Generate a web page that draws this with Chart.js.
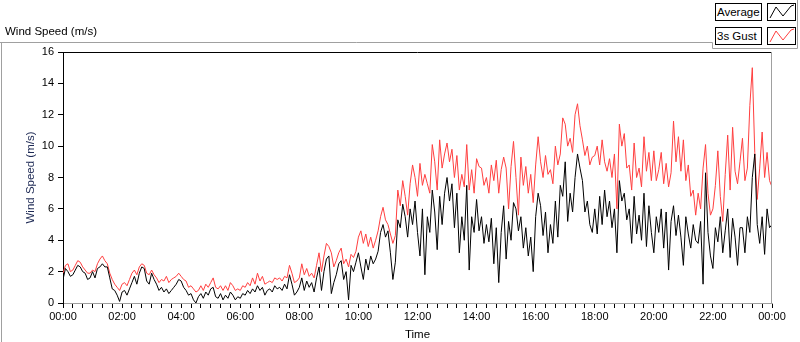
<!DOCTYPE html>
<html>
<head>
<meta charset="utf-8">
<title>Wind Speed (m/s)</title>
<script src="https://cdn.jsdelivr.net/npm/chart.js@4.4.0/dist/chart.umd.min.js"></script>
<style>
  html, body { margin: 0; padding: 0; background: #fff; }
  #wrap { position: relative; width: 800px; height: 342px; overflow: hidden; font-family: "Liberation Sans", Arial, sans-serif; }
  #windChart { position: absolute; left: 0; top: 0; }
  .graphLabel { position: absolute; left: 5px; top: 24px; font-size: 11.5px; line-height: 14px; color: #000; }
  .legendName { position: absolute; left: 715px; width: 45px; height: 16px; border: 1px solid #000; background: #fff;
                font-size: 11.5px; line-height: 16px; text-indent: 1px; color: #000; white-space: nowrap; }
  .legendSwatch { position: absolute; left: 767px; width: 27px; height: 16px; border: 1px solid #000; background: #fff; }
  .legendSwatch svg { display: block; }
</style>
</head>
<body>
<div id="wrap">
  <canvas id="windChart" width="800" height="342"></canvas>
  <div class="graphLabel">Wind Speed (m/s)</div>
  <div class="legendName" style="top:3px">Average</div>
  <div class="legendSwatch" style="top:3px">
    <svg width="27" height="16"><polyline points="2,14 8,3 15,12 23,2 26,1" fill="none" stroke="#000" stroke-width="1"/></svg>
  </div>
  <div class="legendName" style="top:27px">3s Gust</div>
  <div class="legendSwatch" style="top:27px">
    <svg width="27" height="16"><polyline points="2,14 8,3 15,12 23,2 26,1" fill="none" stroke="#ff3f3f" stroke-width="1"/></svg>
  </div>
</div>
<script>
// one sample every 5 minutes, 00:00 .. 24:00
const stepMinutes = 5;

const avgSpeed = [
  1.5, 2.2, 2.0, 1.7, 1.8, 2.1, 2.4, 2.3, 2.0, 1.9, 1.5, 1.6,
  2.0, 1.6, 2.2, 2.3, 2.5, 2.3, 2.3, 1.6, 0.9, 0.8, 0.5, 0.1,
  0.7, 0.8, 0.5, 0.9, 1.3, 1.7, 1.2, 1.9, 2.3, 2.2, 1.4, 1.2,
  1.9, 1.5, 1.2, 0.8, 1.0, 0.7, 0.9, 0.6, 0.8, 1.0, 1.2, 1.5,
  1.4, 1.0, 0.8, 0.5, 0.6, 0.2, 0.0, 0.4, 0.6, 0.3, 0.7, 0.5,
  0.9, 1.0, 0.4, 0.3, 0.6, 0.2, 0.5, 0.3, 0.7, 0.5, 0.2, 0.4,
  0.3, 0.6, 0.5, 0.8, 0.6, 0.9, 0.7, 1.1, 0.8, 1.0, 0.5, 0.8,
  0.9, 0.7, 1.1, 0.9, 1.0, 0.8, 1.2, 0.9, 1.8, 1.2, 0.5, 0.7,
  1.0, 1.6, 0.8, 1.4, 1.0, 1.3, 0.7, 1.6, 2.3, 0.8, 2.0, 2.8,
  3.0, 0.6, 1.3, 1.8, 2.5, 2.7, 1.5, 2.0, 0.2, 2.4, 2.0, 2.6,
  3.2, 2.3, 1.5, 2.8, 2.1, 3.0, 2.5, 2.8, 3.3, 4.5, 5.0, 4.2,
  4.6, 3.2, 1.5, 2.6, 5.3, 4.8, 6.3, 5.5, 4.2, 6.0, 5.0, 6.5,
  4.5, 3.0, 6.0, 1.8, 5.5, 4.5, 7.2, 5.8, 3.4, 6.8, 5.0, 7.0,
  8.0, 6.5, 7.6, 4.8, 7.0, 3.2, 5.5, 4.0, 7.5, 2.1, 5.5, 4.5,
  6.6, 4.6, 5.5, 3.8, 5.0, 3.9, 5.4, 2.5, 4.8, 1.3, 4.5, 6.2,
  2.8, 5.2, 4.0, 6.4, 6.0, 4.6, 5.5, 3.5, 4.8, 3.0, 4.2, 2.0,
  5.5, 7.0, 6.2, 4.3, 5.8, 3.2, 5.0, 3.8, 6.5, 4.2, 7.5, 6.8,
  9.0, 5.2, 7.0, 5.8, 8.0, 9.5, 8.6, 7.8, 5.8, 6.5, 5.0, 4.5,
  6.0, 4.4, 6.8, 5.0, 7.2, 5.5, 6.5, 4.8, 6.0, 3.2, 7.8, 6.5,
  7.0, 5.3, 6.0, 3.8, 6.8, 4.4, 5.6, 4.0, 7.0, 3.6, 6.2, 4.5,
  3.2, 5.5, 4.5, 6.0, 3.5, 5.8, 2.1, 5.2, 6.2, 4.3, 5.6, 4.2,
  2.4, 5.5, 4.4, 3.5, 5.0, 4.0, 3.8, 5.2, 1.2, 8.3, 4.5, 3.0,
  2.2, 4.8, 3.9, 5.5, 3.2, 4.6, 6.0, 2.9, 5.4, 4.2, 2.4, 4.8,
  4.8, 3.2, 5.5, 4.5, 8.0, 9.5, 5.0, 3.8, 5.5, 3.1, 6.0, 4.8,
  5.0
];

const gustSpeed = [
  1.9, 2.4, 2.5, 2.0, 2.1, 2.4, 2.7, 2.6, 2.3, 2.1, 1.9, 1.9,
  2.1, 2.0, 2.5, 2.8, 3.0, 2.7, 2.5, 1.9, 1.5, 1.2, 1.0, 0.8,
  1.2, 1.3, 1.1, 1.5, 1.9, 2.1, 1.8, 2.3, 2.5, 2.4, 1.9, 1.8,
  2.1, 1.8, 1.6, 1.3, 1.5, 1.4, 1.7, 1.3, 1.5, 1.6, 1.7, 1.9,
  1.7, 1.5, 1.4, 1.0, 1.1, 0.9, 0.7, 0.8, 1.1, 0.8, 1.2, 1.0,
  1.3, 1.6, 1.0, 0.9, 1.1, 0.8, 1.1, 0.8, 1.3, 1.1, 0.8, 0.9,
  0.8, 1.1, 1.0, 1.3, 1.1, 1.6, 1.2, 1.9, 1.4, 1.7, 1.2, 1.3,
  1.4, 1.3, 1.6, 1.5, 1.6, 1.4, 1.7, 1.6, 2.4, 1.9, 1.3, 1.4,
  1.6, 2.5, 1.8, 2.2, 1.7, 1.9, 1.6, 2.4, 3.2, 2.0, 3.0, 3.8,
  3.6, 3.2, 2.3, 2.7, 3.2, 3.5, 2.5, 2.8, 2.3, 3.1, 2.9, 3.3,
  4.2, 4.6, 3.8, 4.4, 3.6, 4.2, 3.5, 4.0, 4.6, 5.5, 6.1, 5.3,
  5.0, 4.4, 3.8, 4.3, 7.2, 6.2, 7.8, 6.8, 5.6, 7.6, 8.8, 8.0,
  6.8, 8.9, 7.5, 8.2, 7.6, 7.0, 10.1, 9.0, 7.2, 10.4, 8.6, 9.5,
  10.2, 9.0, 9.8, 8.0, 9.4, 7.2, 8.2, 7.4, 10.1, 7.2, 8.5, 7.0,
  9.2, 8.7, 8.6, 7.5, 8.0, 7.0, 8.8, 7.8, 9.1, 7.0, 8.5, 9.3,
  8.6, 6.0, 8.7, 10.3, 8.0, 5.6, 9.3, 7.5, 8.7, 7.0, 8.2, 6.4,
  8.8, 10.6, 9.0, 8.0, 9.4, 8.2, 8.5, 7.6, 10.0, 8.8, 9.5, 11.8,
  11.4, 10.0, 10.5, 9.6, 12.0, 12.7, 11.3, 10.4, 9.4, 10.0, 8.8, 9.3,
  9.4, 10.0, 8.8, 10.4, 9.0, 8.4, 9.2, 8.0, 9.5, 6.0, 11.4, 10.0,
  10.8, 8.6, 8.8, 7.2, 10.2, 8.0, 8.6, 7.4, 10.6, 8.4, 9.6, 7.8,
  9.7, 7.8, 8.5, 9.6, 7.6, 8.9, 7.4, 8.3, 11.6, 9.0, 10.6, 8.4,
  10.4, 7.8, 8.8, 6.8, 7.2, 5.6, 7.0, 6.0, 8.6, 10.1, 7.0, 5.6,
  6.0, 7.5, 9.7, 6.8, 5.2, 8.2, 10.7, 7.2, 11.2, 8.4, 7.6, 9.0,
  10.5, 7.8, 8.6, 12.6, 15.0, 9.6, 6.6, 8.6, 10.9, 8.0, 9.6, 7.8,
  7.4
];

// x axis: minor tick every 20 min, label every 2 h
const xTickMinutes = [];
for (let m = 0; m <= 1440; m += 20) xTickMinutes.push(m);
const yTicks = [0, 2, 4, 6, 8, 10, 12, 14, 16];

function hhmm(minutes) {
    const h = Math.floor(minutes / 60) % 24;
    const m = minutes % 60;
    return String(h).padStart(2, '0') + ':' + String(m).padStart(2, '0');
}

const toPoints = arr => arr.map((v, i) => ({ x: i * stepMinutes, y: v }));

// LabVIEW style frame: black top / left, grey right / bottom, plus the outer panel lines
const frameLines = {
    id: 'frameLines',
    afterDraw(chart) {
        const { ctx, chartArea: a } = chart;
        ctx.save();
        ctx.lineWidth = 1;
        ctx.strokeStyle = '#000';
        ctx.beginPath();
        ctx.moveTo(a.left, a.top + 0.5);
        ctx.lineTo(a.right, a.top + 0.5);
        ctx.stroke();

        ctx.strokeStyle = '#a0a0a0';
        ctx.beginPath();
        ctx.moveTo(a.right - 0.5, a.top);
        ctx.lineTo(a.right - 0.5, a.bottom);
        // outer graph frame
        ctx.moveTo(0, 42.5);
        ctx.lineTo(712.5, 42.5);
        ctx.lineTo(712.5, 48.5);
        ctx.lineTo(797.5, 48.5);
        ctx.lineTo(797.5, 0);
        ctx.moveTo(1.5, 42);
        ctx.lineTo(1.5, 342);
        ctx.stroke();
        ctx.restore();
    }
};

const tickFont = { family: '"Liberation Sans", Arial, sans-serif', size: 11 };
const titleFont = { family: '"Liberation Sans", Arial, sans-serif', size: 11.5 };

new Chart(document.getElementById('windChart'), {
    type: 'line',
    data: {
        datasets: [
            {
                label: 'Average',
                data: toPoints(avgSpeed),
                borderColor: '#000000',
                borderWidth: 1,
                pointRadius: 0,
                tension: 0
            },
            {
                label: '3s Gust',
                data: toPoints(gustSpeed),
                borderColor: '#ff3f3f',
                borderWidth: 1,
                pointRadius: 0,
                tension: 0
            }
        ]
    },
    options: {
        responsive: false,
        animation: false,
        layout: { padding: { left: 0, top: 52, right: 28, bottom: 0 } },
        plugins: {
            legend: { display: false },
            tooltip: { enabled: false }
        },
        scales: {
            x: {
                type: 'linear',
                min: 0,
                max: 1440,
                afterBuildTicks: s => { s.ticks = xTickMinutes.map(v => ({ value: v })); },
                afterFit: s => { s.height = 39; },
                ticks: {
                    autoSkip: false,
                    maxRotation: 0,
                    padding: 2,
                    color: '#000',
                    font: tickFont,
                    callback: v => (v % 120 === 0 ? hhmm(v) : '')
                },
                grid: { drawOnChartArea: false, tickLength: 5, tickColor: '#000' },
                border: { display: true, color: '#a0a0a0', width: 1 },
                title: { display: true, text: 'Time', color: '#000', font: titleFont, padding: { top: 0, bottom: 0 } }
            },
            y: {
                min: 0,
                max: 16,
                afterBuildTicks: s => { s.ticks = yTicks.map(v => ({ value: v })); },
                afterFit: s => { s.width = 63; },
                ticks: { padding: 4, color: '#000', font: tickFont },
                grid: { drawOnChartArea: false, tickLength: 5, tickColor: '#000' },
                border: { display: true, color: '#000', width: 1 },
                title: { display: true, text: 'Wind Speed (m/s)', color: '#1e2a55', font: titleFont, padding: { top: 24, bottom: 0 } }
            }
        }
    },
    plugins: [frameLines]
});
</script>
</body>
</html>
